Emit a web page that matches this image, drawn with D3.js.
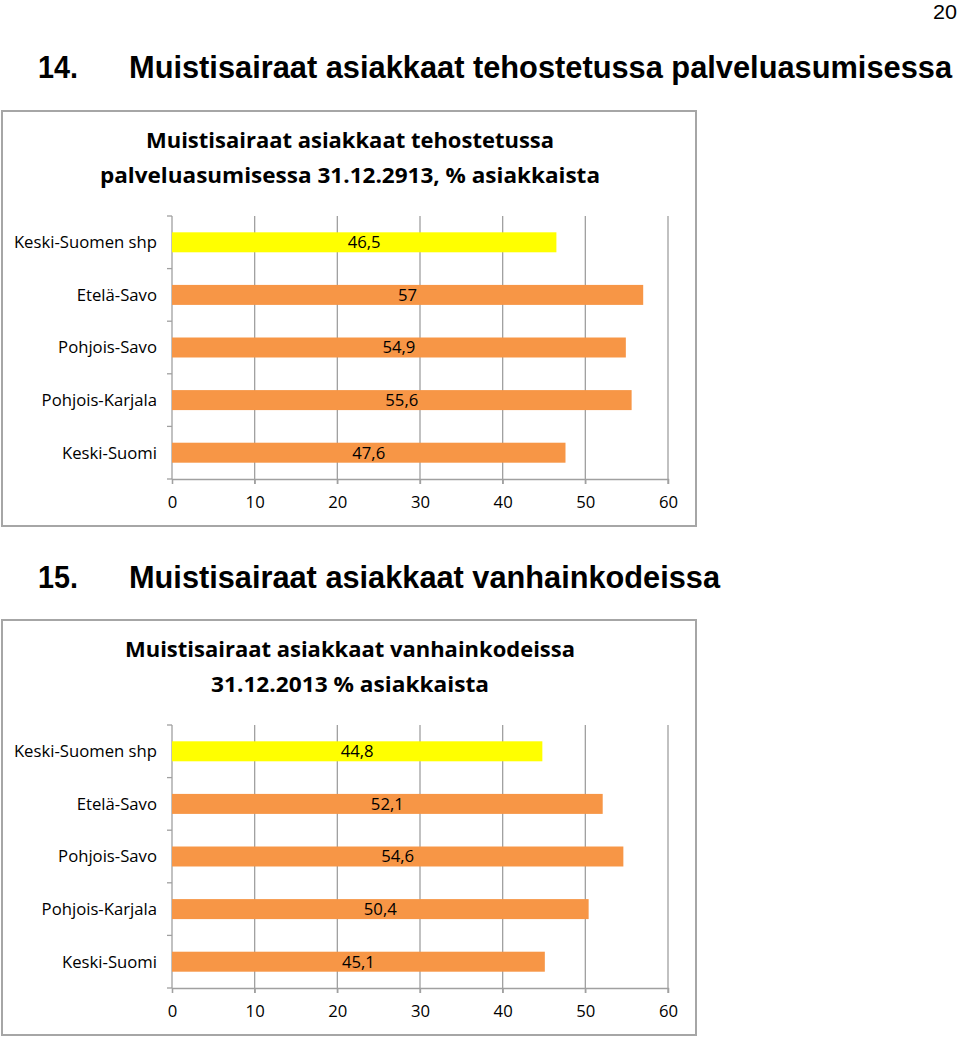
<!DOCTYPE html>
<html><head><meta charset="utf-8">
<script src="https://cdn.jsdelivr.net/npm/d3@7"></script>
<style>body{margin:0;background:#fff}svg{display:block}</style>
</head><body>
<svg id="c" width="960" height="1038"></svg>
<script>
const categories = ["Keski-Suomen shp","Etelä-Savo","Pohjois-Savo","Pohjois-Karjala","Keski-Suomi"];
const values1 = [46.5, 57, 54.9, 55.6, 47.6];
const values2 = [44.8, 52.1, 54.6, 50.4, 45.1];
const barColors = ["#ffff00","#f79646","#f79646","#f79646","#f79646"];
const xTicks = [0,10,20,30,40,50,60];
const heading1 = ["14.", "Muistisairaat asiakkaat tehostetussa palveluasumisessa"];
const heading2 = ["15.", "Muistisairaat asiakkaat vanhainkodeissa"];
const title1 = ["Muistisairaat asiakkaat tehostetussa", "palveluasumisessa 31.12.2913, % asiakkaista"];
const title2 = ["Muistisairaat asiakkaat vanhainkodeissa", "31.12.2013 % asiakkaista"];
const pageNum = "20";

const svg = d3.select("#c");
const F = "'Open Sans','Noto Sans',sans-serif";
const HF = "'Liberation Sans Narrow','Liberation Sans',Arial,sans-serif";

svg.append("text").attr("x",957).attr("y",19).attr("text-anchor","end")
  .attr("font-family",HF).attr("font-size",21).attr("textLength",24).attr("lengthAdjust","spacingAndGlyphs")
  .attr("fill","#000").text(pageNum);

function heading(h, y, w2){
  svg.append("text").attr("x",38).attr("y",y).attr("font-family",HF).attr("font-weight","bold")
    .attr("font-size",31).attr("textLength",40).attr("lengthAdjust","spacingAndGlyphs").text(h[0]);
  svg.append("text").attr("x",129).attr("y",y).attr("font-family",HF).attr("font-weight","bold")
    .attr("font-size",31).attr("textLength",w2).attr("lengthAdjust","spacingAndGlyphs").text(h[1]);
}
heading(heading1, 78, 823);
heading(heading2, 588, 591);

function chart(top, title, tw, values){
  const g = svg.append("g").attr("transform",`translate(0,${top})`);
  g.append("rect").attr("x",2).attr("y",0).attr("width",694).attr("height",415)
    .attr("fill","#fff").attr("stroke","#a6a6a6").attr("stroke-width",2);
  title.forEach((t,i)=>{
    g.append("text").attr("x",350).attr("y",37+i*35).attr("text-anchor","middle")
      .attr("font-family",F).attr("font-weight","bold").attr("font-size",22)
      .attr("textLength",tw[i]).attr("lengthAdjust","spacingAndGlyphs").attr("fill","#000").text(t);
  });
  const x = d3.scaleLinear().domain([0,60]).range([172,668]);
  const y = d3.scaleBand().domain(categories).range([105,368]).paddingInner(0.62).paddingOuter(0.31);
  const y0 = 105, y1 = 368;
  g.selectAll(".grid").data(xTicks.slice(1)).enter().append("line")
    .attr("x1",d=>x(d)).attr("x2",d=>x(d)).attr("y1",y0).attr("y2",y1+5)
    .attr("stroke","#a0a0a0").attr("stroke-width",1.3);
  const xa = g.append("g").attr("transform",`translate(0,${y1})`)
    .call(d3.axisBottom(x).tickValues(xTicks).tickSize(5).tickPadding(12));
  xa.select(".domain").attr("stroke","#a0a0a0").attr("stroke-width",1.3);
  xa.selectAll(".tick line").attr("stroke","#a0a0a0").attr("stroke-width",1.3);
  xa.selectAll(".tick text").attr("font-family",F).attr("font-size",16.7).attr("fill","#000");
  g.append("line").attr("x1",172).attr("x2",172).attr("y1",y0).attr("y2",y1).attr("stroke","#a0a0a0").attr("stroke-width",1.3);
  const step = (y1-y0)/categories.length;
  g.selectAll(".yt").data(d3.range(categories.length+1)).enter().append("line")
    .attr("x1",167).attr("x2",172).attr("y1",i=>y0+i*step).attr("y2",i=>y0+i*step)
    .attr("stroke","#a0a0a0").attr("stroke-width",1.3);
  g.selectAll(".cat").data(categories).enter().append("text")
    .attr("x",157).attr("y",d=>y(d)+y.bandwidth()/2).attr("dy","0.35em").attr("text-anchor","end")
    .attr("font-family",F).attr("font-size",16.7).attr("fill","#000").text(d=>d);
  g.selectAll(".bar").data(values).enter().append("rect")
    .attr("x",x(0)).attr("y",(d,i)=>y(categories[i])).attr("width",d=>x(d)-x(0))
    .attr("height",y.bandwidth()).attr("fill",(d,i)=>barColors[i]);
  g.selectAll(".val").data(values).enter().append("text")
    .attr("x",d=>(x(0)+x(d))/2).attr("y",(d,i)=>y(categories[i])+y.bandwidth()/2).attr("dy","0.35em")
    .attr("text-anchor","middle").attr("font-family",F).attr("font-size",16.7).attr("fill","#000")
    .text(d=>String(d).replace(".",","));
}
chart(111, title1, [408,500], values1);
chart(620, title2, [450,278], values2);
</script>
</body></html>
